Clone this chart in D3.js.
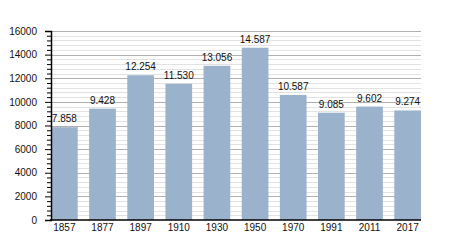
<!DOCTYPE html>
<html>
<head>
<meta charset="utf-8">
<script src="https://cdn.jsdelivr.net/npm/d3@7"></script>
<style>
  body { margin: 0; background: #fff; }
  text { font-family: "Liberation Sans", Arial, sans-serif; fill: #111; }
</style>
</head>
<body>
<div id="chart"></div>
<script>
// data
var years = ["1857", "1877", "1897", "1910", "1930", "1950", "1970", "1991", "2011", "2017"];
var population = [7858, 9428, 12254, 11530, 13056, 14587, 10587, 9085, 9602, 9274];
var labels = ["7.858", "9.428", "12.254", "11.530", "13.056", "14.587", "10.587", "9.085", "9.602", "9.274"];
var yTicks = [0, 2000, 4000, 6000, 8000, 10000, 12000, 14000, 16000];

var svgWidth = 450;
var svgHeight = 250;

var svg = d3.select("#chart")
  .append("svg")
  .attr("width", svgWidth)
  .attr("height", svgHeight);

var x = d3.scaleBand()
  .domain(years)
  .range([51, 421])
  .paddingInner(0.3)
  .paddingOuter(0);

var y = d3.scaleLinear()
  .domain([0, 16000])
  .range([220, 31]);

// minor gridlines every 400
var minor = d3.range(400, 16001, 400).filter(v => v % 2000 !== 0);
svg.append("g").selectAll("line")
  .data(minor)
  .enter()
  .append("line")
  .attr("x1", 51).attr("x2", 421)
  .attr("y1", d => Math.round(y(d)) + 0.5)
  .attr("y2", d => Math.round(y(d)) + 0.5)
  .attr("stroke", "#e2e2e2");

// major gridlines
svg.append("g").selectAll("line")
  .data(yTicks.slice(1))
  .enter()
  .append("line")
  .attr("x1", 51).attr("x2", 421)
  .attr("y1", d => Math.round(y(d)) + 0.5)
  .attr("y2", d => Math.round(y(d)) + 0.5)
  .attr("stroke", "#b0b0b0");

// bars
svg.append("g").selectAll("rect")
  .data(population)
  .enter()
  .append("rect")
  .attr("x", (d, i) => x(years[i]))
  .attr("y", d => y(d))
  .attr("width", x.bandwidth())
  .attr("height", d => y(0) - y(d))
  .attr("fill", "#9bb2cd");

// value labels
svg.append("g").selectAll("text")
  .data(population)
  .enter()
  .append("text")
  .attr("x", (d, i) => x(years[i]) + x.bandwidth() / 2)
  .attr("y", d => y(d) - 5)
  .attr("text-anchor", "middle")
  .attr("font-size", "10px")
  .text((d, i) => labels[i]);

// y axis with minor ticks
var leftAxis = d3.axisLeft(y)
  .tickValues(yTicks)
  .tickSize(6)
  .tickPadding(8)
  .tickFormat(d3.format("d"));

var yAxisG = svg.append("g")
  .attr("transform", "translate(51,0)")
  .call(leftAxis);

yAxisG.selectAll(".minor")
  .data(minor)
  .enter()
  .append("line")
  .attr("class", "minor")
  .attr("x1", -4).attr("x2", 0)
  .attr("y1", d => y(d) + 0.5)
  .attr("y2", d => y(d) + 0.5)
  .attr("stroke", "#000");

yAxisG.select(".domain").attr("stroke", "#000").attr("stroke-width", 1.5);
yAxisG.selectAll("text").attr("font-size", "10px").attr("fill", "#111");

// x axis
var bottomAxis = d3.axisBottom(x).tickSize(0).tickPadding(4);
var xAxisG = svg.append("g")
  .attr("transform", "translate(0,220)")
  .call(bottomAxis);

xAxisG.select(".domain").attr("stroke", "#000").attr("stroke-width", 1.5)
  .attr("d", "M50,0H421");
xAxisG.selectAll("text").attr("font-size", "10px").attr("fill", "#111");
</script>
</body>
</html>
